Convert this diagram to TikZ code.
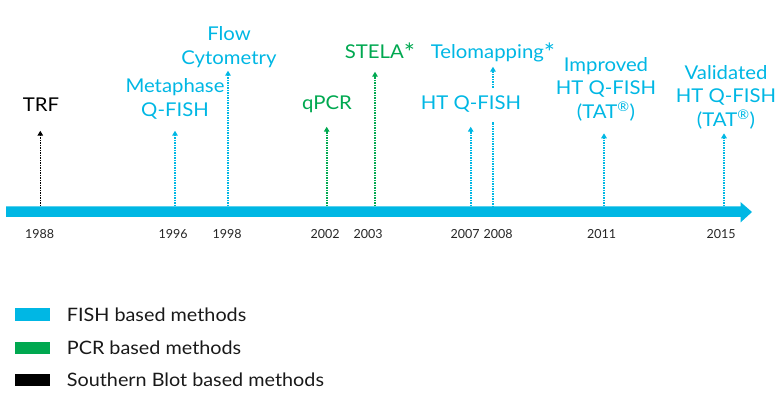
\documentclass[tikz,border=0pt]{standalone}
\usepackage{fontspec}
\setmainfont{Lato}[FakeStretch=1.07]
\newfontfamily\yrfont{Lato}
\usetikzlibrary{arrows.meta}
\definecolor{fishblue}{RGB}{0,183,228}
\definecolor{pcrgreen}{RGB}{0,168,80}
\newcommand{\bigast}{\raisebox{-3pt}{\scalebox{1.3}{*}}}
\tikzset{
  lbl/.style={font=\fontsize{19}{23.5}\selectfont, align=center, inner sep=0pt},
  yr/.style={font=\yrfont\fontsize{12.5}{14}\selectfont, text=black!85, inner sep=0pt},
  tick/.style={line width=1.6pt, dash pattern=on 1.5pt off 1pt, -{Triangle[length=5pt,width=5.5pt]}},
  tickplain/.style={line width=1.6pt, dash pattern=on 1.5pt off 1pt, dash phase=0.6pt},
  leg/.style={font=\fontsize{18.5}{22}\selectfont, text=black!90, anchor=west, inner sep=0pt},
}
\begin{document}
\begin{tikzpicture}[x=1pt,y=-1pt]
\useasboundingbox (0,0) rectangle (782,398);
% timeline bar
\fill[fishblue] (6,206.5) -- (740.5,206.5) -- (740.5,202) -- (752,212) -- (740.5,222.5) -- (740.5,217) -- (6,217) -- cycle;
% bases and tips
\foreach \n/\x/\t in {a/40.3/130.7, b/175/130.7, c/228/70.7, d/326.7/126.7, e/375/71.7, f/470.7/126.7, h/604/133.3, i/724/133.3}{
  \coordinate (\n0) at (\x,206.5);
  \coordinate (\n1) at (\x,\t);
}
\coordinate (g0) at (493,206.5);
\coordinate (g1) at (493,121.7);
\coordinate (g2) at (493,88);
\coordinate (g3) at (493,66.7);
\draw[tick,black] (a0) -- (a1);
\draw[tick,fishblue] (b0) -- (b1);
\draw[tick,fishblue] (c0) -- (c1);
\draw[tick,pcrgreen] (d0) -- (d1);
\draw[tick,pcrgreen] (e0) -- (e1);
\draw[tick,fishblue] (f0) -- (f1);
\draw[tickplain,draw=fishblue] (g0) -- (g1);
\draw[tick,fishblue] (g2) -- (g3);
\draw[tick,fishblue] (h0) -- (h1);
\draw[tick,fishblue] (i0) -- (i1);
% labels
\node[lbl,text=black] (trf) at (41,105) {TRF};
\node[lbl,text=fishblue] (meta) at (175,99) {Metaphase\\Q-FISH};
\node[lbl,text=fishblue] (flow) at (229,47) {Flow\\Cytometry};
\node[lbl,text=pcrgreen] (qpcr) at (327,104) {qPCR};
\node[lbl,text=pcrgreen] (stela) at (380,52) {STELA\bigast};
\node[lbl,text=fishblue] (telo) at (493,52) {Telomapping\bigast};
\node[lbl,text=fishblue] (htq) at (471,104) {HT Q-FISH};
\node[lbl,text=fishblue] (impr) at (606,89) {Improved\\HT Q-FISH\\(TAT\textsuperscript{\textregistered})};
\node[lbl,text=fishblue] (valid) at (726,97) {Validated\\HT Q-FISH\\(TAT\textsuperscript{\textregistered})};
% years
\node[yr] (y1988) at (39.5,234) {1988};
\node[yr] (y1996) at (173,234) {1996};
\node[yr] (y1998) at (227,234) {1998};
\node[yr] (y2002) at (325,234) {2002};
\node[yr] (y2003) at (368,234) {2003};
\node[yr] (y2007) at (465,234) {2007};
\node[yr] (y2008) at (498,234) {2008};
\node[yr] (y2011) at (601.7,234) {2011};
\node[yr] (y2015) at (721,234) {2015};
% legend
\fill[fishblue] (15,308.3) rectangle (50,321);
\fill[pcrgreen] (15,341.5) rectangle (50,353.5);
\fill[black] (15,373.5) rectangle (50,386);
\node[leg] (l1) at (66.7,314.7) {FISH based methods};
\node[leg] (l2) at (66.7,347.5) {PCR based methods};
\node[leg] (l3) at (66.7,379.7) {Southern Blot based methods};
\end{tikzpicture}
\end{document}
